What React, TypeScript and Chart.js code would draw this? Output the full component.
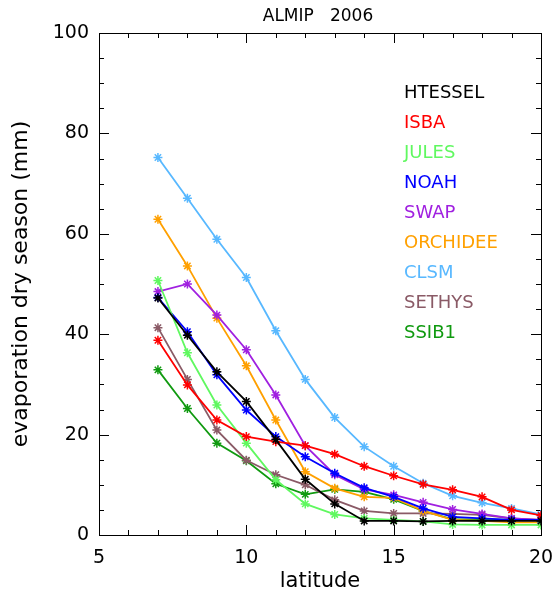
import React, { useEffect, useRef } from "react";
import { Chart, registerables } from "chart.js";

Chart.register(...registerables);

// Latitudes of the zonal means (degrees N)
const latitudes = [7, 8, 9, 10, 11, 12, 13, 14, 15, 16, 17, 18, 19, 20];

// Dry-season evaporation (mm) per land-surface model
const htessel = [47.2, 39.8, 32.5, 26.6, 19.0, 11.1, 6.2, 2.8, 2.8, 2.7, 2.8, 2.8, 2.8, 2.8];
const isba = [38.8, 29.9, 22.9, 19.6, 18.6, 17.8, 16.1, 13.7, 11.8, 10.1, 9.0, 7.6, 5.0, 3.9];
const jules = [50.7, 36.3, 25.9, 18.3, 11.0, 6.2, 4.1, 3.3, 3.0, 2.7, 2.1, 2.0, 2.0, 2.0];
const noah = [47.3, 40.5, 31.9, 24.9, 19.6, 15.6, 12.3, 9.4, 7.6, 5.3, 3.6, 3.3, 3.0, 3.0];
const swap = [48.5, 50.0, 43.8, 36.9, 27.9, 17.8, 12.0, 9.1, 8.0, 6.5, 5.1, 4.2, 3.3, 3.0];
const orchidee = [62.9, 53.6, 43.2, 33.7, 22.9, 12.6, 9.3, 7.6, 7.4, 4.8, 3.0, 2.8, 2.5, 2.5];
const clsm = [75.2, 67.1, 58.9, 51.3, 40.7, 31.0, 23.4, 17.6, 13.7, 10.3, 7.8, 6.4, 5.3, 4.1];
const sethys = [41.3, 31.0, 20.9, 14.9, 12.0, 10.0, 7.0, 4.8, 4.3, 4.3, 4.2, 4.0, 3.3, 3.0];
const ssib1 = [32.9, 25.2, 18.3, 14.8, 10.2, 8.1, 9.1, 8.6, 7.1, 4.8, 3.1, 3.1, 3.0, 3.0];

const modelNames = ["HTESSEL", "ISBA", "JULES", "NOAH", "SWAP", "ORCHIDEE", "CLSM", "SETHYS", "SSIB1"];
const modelValues = [htessel, isba, jules, noah, swap, orchidee, clsm, sethys, ssib1];
const modelColors = [
  "#000000",
  "#ff0000",
  "#60f860",
  "#0000ff",
  "#a020e0",
  "#ffa000",
  "#58b8ff",
  "#8a5a66",
  "#109a10",
];

const titleText = "ALMIP   2006";
const xTitle = "latitude";
const yTitle = "evaporation dry season (mm)";

// Axis box with inward ticks on all four sides, plus title
const framePlugin = {
  id: "frameTicks",
  beforeDatasetsDraw(chart: any) {
    const { ctx, chartArea } = chart;
    const { left, right, top, bottom } = chartArea;
    const xs = chart.scales.x;
    const ys = chart.scales.y;
    ctx.save();
    ctx.strokeStyle = "#000";
    ctx.lineWidth = 1;
    ctx.strokeRect(Math.round(left) + 0.5, Math.round(top) + 0.5, Math.round(right - left), Math.round(bottom - top));
    ctx.beginPath();
    for (let v = 5; v <= 20; v += 1) {
      const len = v % 5 === 0 ? 10 : 5;
      const px = Math.round(xs.getPixelForValue(v)) + 0.5;
      ctx.moveTo(px, bottom);
      ctx.lineTo(px, bottom - len);
      ctx.moveTo(px, top);
      ctx.lineTo(px, top + len);
    }
    for (let v = 0; v <= 100; v += 5) {
      const len = v % 20 === 0 ? 10 : 5;
      const py = Math.round(ys.getPixelForValue(v)) + 0.5;
      ctx.moveTo(left, py);
      ctx.lineTo(left + len, py);
      ctx.moveTo(right, py);
      ctx.lineTo(right - len, py);
    }
    ctx.stroke();

    ctx.fillStyle = "#000";
    ctx.font = "17px 'DejaVu Sans'";
    ctx.textAlign = "center";
    ctx.textBaseline = "middle";
    ctx.fillText(titleText, (left + right) / 2 - 2, 17);
    ctx.restore();
  },
  afterDatasetsDraw(chart: any) {
    const { ctx, chartArea } = chart;
    ctx.save();
    ctx.font = "18px 'DejaVu Sans'";
    ctx.textAlign = "left";
    ctx.textBaseline = "middle";
    chart.data.datasets.forEach((ds: any, i: number) => {
      ctx.fillStyle = ds.borderColor;
      ctx.fillText(ds.label, chartArea.left + 305, chartArea.top + 60 + i * 30.1);
    });
    ctx.restore();
  },
};

export default function App() {
  const canvasRef = useRef<HTMLCanvasElement | null>(null);

  useEffect(() => {
    document.body.style.margin = "0";
    const canvas = canvasRef.current;
    if (!canvas) return;
    const chart = new Chart(canvas, {
      type: "line",
      data: {
        datasets: modelNames.map((name, i) => ({
          label: name,
          data: latitudes.map((lat, j) => ({ x: lat, y: modelValues[i][j] })),
          borderColor: modelColors[i],
          backgroundColor: modelColors[i],
          borderWidth: 1.8,
          pointStyle: "star",
          pointRadius: 4.5,
          pointBorderWidth: 1.5,
          tension: 0,
          fill: false,
        })),
      },
      options: {
        responsive: false,
        animation: false,
        layout: { padding: { top: 33, right: 15, left: 0, bottom: 0 } },
        plugins: {
          legend: { display: false },
          tooltip: { enabled: false },
          title: { display: false },
        },
        scales: {
          x: {
            type: "linear",
            min: 5,
            max: 20,
            grid: { display: false, drawTicks: false },
            border: { display: false },
            ticks: {
              stepSize: 5,
              color: "#000",
              font: { family: "'DejaVu Sans'", size: 19 },
              padding: 12,
              maxRotation: 0,
            },
            title: {
              display: true,
              text: xTitle,
              color: "#000",
              font: { family: "'DejaVu Sans'", size: 21 },
              padding: { top: 0, bottom: 3 },
            },
            afterFit: (s: any) => {
              s.height = 62;
              s.paddingLeft = 0;
              s.paddingRight = 0;
            },
          },
          y: {
            type: "linear",
            min: 0,
            max: 100,
            grid: { display: false, drawTicks: false },
            border: { display: false },
            ticks: {
              stepSize: 20,
              color: "#000",
              font: { family: "'DejaVu Sans'", size: 19 },
              padding: 10,
            },
            title: {
              display: true,
              text: yTitle,
              color: "#000",
              font: { family: "'DejaVu Sans'", size: 22 },
              padding: { top: 8, bottom: 0 },
            },
            afterFit: (s: any) => {
              s.width = 99;
              s.paddingTop = 0;
              s.paddingBottom = 0;
            },
          },
        },
      },
      plugins: [framePlugin],
    });
    return () => chart.destroy();
  }, []);

  return (
    <div style={{ position: "fixed", left: 0, top: 0, width: 556, height: 597, background: "#fff" }}>
      <canvas ref={canvasRef} width={556} height={597} />
    </div>
  );
}
